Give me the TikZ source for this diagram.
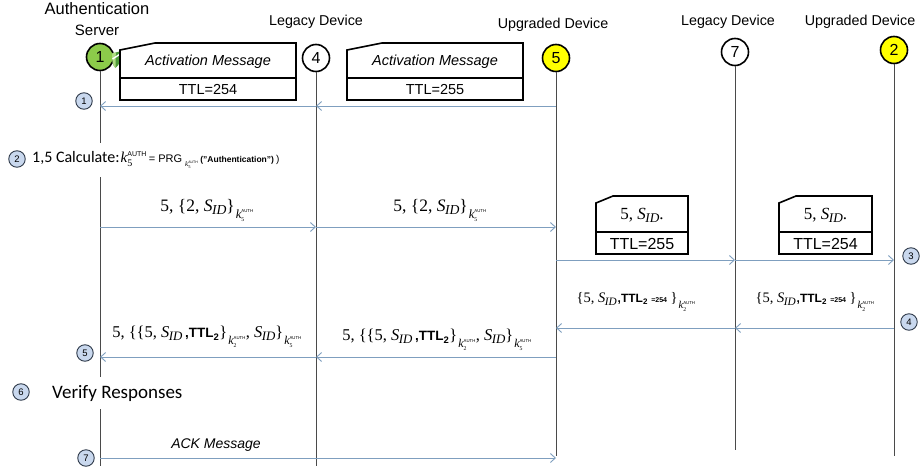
\documentclass[tikz,border=0pt]{standalone}
\usepackage{fontspec}
\usepackage{graphicx}
\setmainfont{Liberation Sans}
\setsansfont{Liberation Sans}
\newfontfamily\tms{Liberation Serif}
\newfontfamily\cbr{Carlito}
\usetikzlibrary{arrows.meta}

\definecolor{msgblue}{HTML}{7F9FBF}
\definecolor{lifegray}{HTML}{4A4A4A}
\definecolor{stepfill}{HTML}{C9D8EE}
\definecolor{stepline}{HTML}{2F3A4A}
\definecolor{srvgreen}{HTML}{8CCB4A}
\definecolor{devyellow}{HTML}{FFFF00}
\definecolor{shieldgreen}{HTML}{4E9A3A}

\newcommand\fs[1]{\fontsize{#1}{#1}\selectfont}
% session identifier S_ID
\newcommand\sid{{\itshape S\kern-.5pt\raisebox{-.18em}{\scalebox{.78}{ID}}}}
% key k_i^AUTH used as a subscript
\newcommand\kkey[1]{\kern1pt\raisebox{-.4em}{\scalebox{.72}{$\mbox{\itshape k}^{\mbox{\sffamily\upshape\fs{6}AUTH}}_{\mbox{\upshape\fs{8}#1}}$}}}

% message card with a chamfered top-left corner
% #1 name, #2 x1, #3 y1, #4 x2, #5 y2, #6 divider y, #7 chamfer width, #8 upper text, #9 lower text
\newcommand\msgcard[9]{%
  \draw[cardline] (#2,#3+7) -- (#2+#7,#3) -- (#4,#3) -- (#4,#5) -- (#2,#5) -- cycle;
  \draw[cardline] (#2,#6) -- (#4,#6);
  \node[cardtxt] (#1-top) at ({(#2+#4)/2},{(#3+#6)/2+1.5}) {#8};
  \node[cardtxt] (#1-bot) at ({(#2+#4)/2},{(#6+#5)/2+0.5}) {#9};
}

\begin{document}
\begin{tikzpicture}[x=1pt,y=-1pt,
  actor/.style={circle,draw,line width=1.6pt,minimum size=27pt,inner sep=0pt,font=\fs{16}},
  stepmark/.style={circle,draw=stepline,line width=0.9pt,fill=stepfill,minimum size=16.5pt,inner sep=0pt,font=\fs{9.5}},
  life/.style={draw=lifegray,line width=0.9pt},
  msg/.style={draw=msgblue,line width=0.9pt,-{Straight Barb[length=5pt,width=9pt]}},
  role/.style={font=\fs{14.3},inner sep=0pt},
  cardtxt/.style={inner sep=0pt},
  cardline/.style={line width=1.6pt,line join=miter},
  lbl/.style={inner sep=0pt},
]
\useasboundingbox[fill=white] (0,0) rectangle (921,471);

% participant titles
\node[role,font=\fs{16.5}] (tAuth) at (97,9) {Authentication};
\node[role,font=\fs{15}] (tServer) at (97,30) {Server};
\node[role] (tLeg1) at (316,22) {Legacy Device};
\node[role] (tUpg1) at (553,25) {Upgraded Device};
\node[role] (tLeg2) at (728,22) {Legacy Device};
\node[role] (tUpg2) at (860,22) {Upgraded Device};

% participants
\node[actor,fill=srvgreen] (h1) at (100,57) {1};
\node[actor] (h4) at (316,58) {4};
\node[actor,fill=devyellow] (h5) at (556,58) {5};
\node[actor] (h7) at (735,52) {7};
\node[actor,fill=devyellow] (h2) at (894,50) {2};

% small shield badge on the server
\fill[shieldgreen] (112,53.5) -- (119.5,51.5) -- (120,60) .. controls (119.5,64) and (117.5,66.5) .. (115.5,68) .. controls (113,66) and (112,62) .. cycle;
\fill[srvgreen!70!white] (112,53.5) -- (115.8,52.5) -- (115.5,68) .. controls (113,66) and (112,62) .. cycle;
\draw[white,line width=1.4pt] (112.5,59) -- (119.5,54.5);

% lifelines
\coordinate (e1) at (h1 |- 0,466);
\coordinate (e4) at (h4 |- 0,466);
\coordinate (e5) at (h5 |- 0,456);
\coordinate (e7) at (h7 |- 0,450);
\coordinate (e2) at (h2 |- 0,456);
\draw[life] (h1) -- (e1);
\draw[life] (h4) -- (e4);
\draw[life] (h5) -- (e5);
\draw[life] (h7) -- (e7);
\draw[life] (h2) -- (e2);

% activation message cards
\msgcard{act1}{120}{43}{296}{100}{78}{35}{\itshape\fs{14.5}Activation Message}{\fs{14.5}TTL=254}
\msgcard{act2}{347}{43}{523}{100}{78}{35}{\itshape\fs{14.5}Activation Message}{\fs{14.5}TTL=255}

% step 1: activation message relayed to the server
\path (h1 |- 0,106) coordinate (r1a) (h4 |- 0,106) coordinate (r1b) (h5 |- 0,106) coordinate (r1c);
\draw[msg] (r1c) -- (r1b);
\draw[msg] (r1b) -- (r1a);
\node[stepmark] (s1) at (84,101) {1};

% step 2: key derivation
\node[stepmark] (s2) at (17,159) {2};
\node[anchor=west,fill=white,inner xsep=2pt,inner ysep=8pt] (calc) at (30,160)
  {{\cbr\fs{16}1,5 Calculate:}\kern1pt{\tms\fs{15}$\mbox{\itshape k}^{\mbox{\sffamily\upshape\fs{7}AUTH}}_{\mbox{\upshape\fs{10}5}}$}\kern2pt{\fs{11}= PRG}\kern3pt\raisebox{-.4em}{\tms\fs{7}$\mbox{\itshape k}^{\mbox{\sffamily\upshape\fs{3.5}AUTH}}_{\mbox{\upshape\fs{4.5}5}}$}\kern2pt{\sffamily\bfseries\fs{8.5}("Authentication")}\kern2pt{\fs{10})}};

% step 3: request forwarded to device 2
\path (h1 |- 0,227) coordinate (r3a) (h4 |- 0,227) coordinate (r3b) (h5 |- 0,227) coordinate (r3c);
\draw[msg] (r3a) -- (r3b);
\draw[msg] (r3b) -- (r3c);
\node[lbl] (m3a) at (207,210) {\tms\fs{17.5}5, \{2, \sid\}\kkey{5}};
\node[lbl] (m3b) at (440,210) {\tms\fs{17.5}5, \{2, \sid\}\kkey{5}};

\msgcard{fw1}{596}{196}{688}{254}{232}{17}{\tms\fs{17}5, \sid.}{\fs{16}TTL=255}
\msgcard{fw2}{779}{196}{872}{254}{232}{17}{\tms\fs{17}5, \sid.}{\fs{16}TTL=254}

\path (h5 |- 0,260) coordinate (r4a) (h7 |- 0,260) coordinate (r4b) (h2 |- 0,260) coordinate (r4c);
\draw[msg] (r4a) -- (r4b);
\draw[msg] (r4b) -- (r4c);
\node[stepmark] (s3) at (911,256) {3};

% step 4: device 2 replies
\path (h2 |- 0,328) coordinate (r5a) (h7 |- 0,328) coordinate (r5b) (h5 |- 0,328) coordinate (r5c);
\draw[msg] (r5a) -- (r5b);
\draw[msg] (r5b) -- (r5c);
\node[lbl] (m5a) at (636,302) {\tms\fs{14.5}\{5, \sid\kern1pt{\sffamily\bfseries\fs{12},TTL\textsubscript{2} {\fs{7}=254}}\ \}\kkey{2}};
\node[lbl] (m5b) at (815,302) {\tms\fs{14.5}\{5, \sid\kern1pt{\sffamily\bfseries\fs{12},TTL\textsubscript{2} {\fs{7}=254}}\ \}\kkey{2}};
\node[stepmark] (s4) at (909,322) {4};

% step 5: responses returned to the server
\path (h5 |- 0,357) coordinate (r6a) (h4 |- 0,357) coordinate (r6b) (h1 |- 0,357) coordinate (r6c);
\draw[msg] (r6a) -- (r6b);
\draw[msg] (r6b) -- (r6c);
\node[lbl] (m6a) at (207,337) {\tms\fs{16.5}5, \{\{5, \sid\,{\sffamily\bfseries\fs{13.5},TTL\textsubscript{2}}\}\kkey{2}, \sid\}\kkey{5}};
\node[lbl] (m6b) at (437,340) {\tms\fs{16.5}5, \{\{5, \sid\,{\sffamily\bfseries\fs{13.5},TTL\textsubscript{2}}\}\kkey{2}, \sid\}\kkey{5}};
\node[stepmark] (s5) at (85,353) {5};

% step 6: verification
\node[stepmark] (s6) at (21,392) {6};
\node[anchor=west,fill=white,inner xsep=2pt,inner ysep=8pt] (verify) at (50,393) {\cbr\fs{19}Verify Responses};

% step 7: acknowledgement
\path (h1 |- 0,458) coordinate (r8a) (h5 |- 0,458) coordinate (r8b);
\draw[msg] (r8a) -- (r8b);
\node[lbl] (ack) at (216,445) {\itshape\fs{14}ACK Message};
\node[stepmark] (s7) at (86,458) {7};
\end{tikzpicture}
\end{document}
